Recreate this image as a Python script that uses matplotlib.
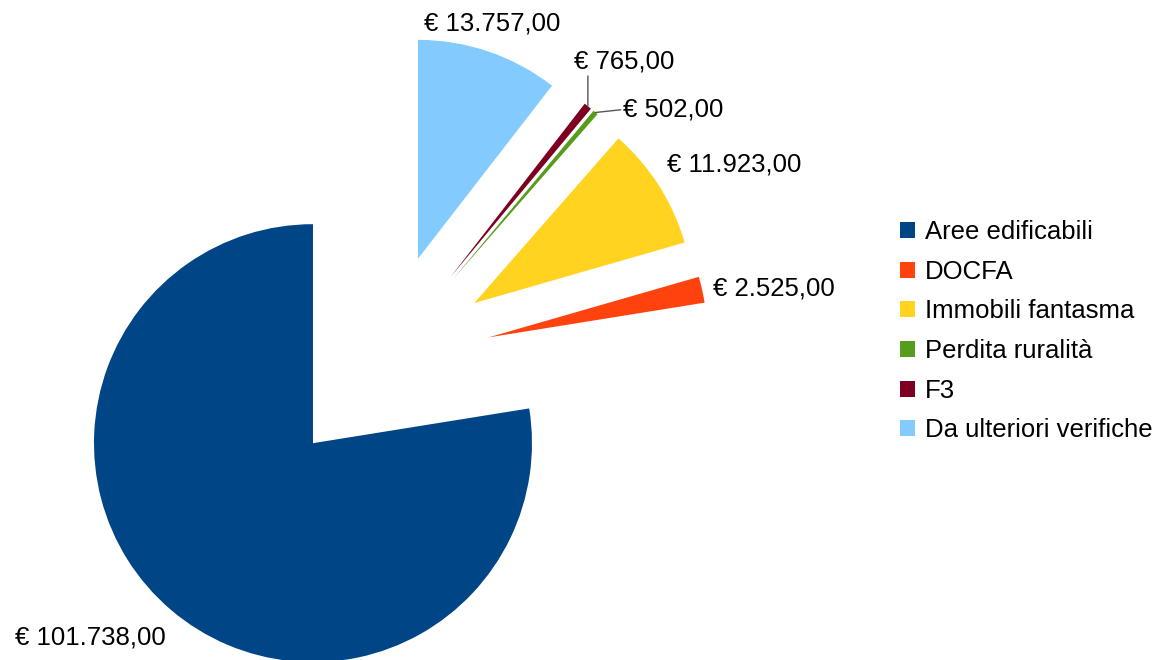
import numpy as np
import matplotlib
matplotlib.use("Agg")
import matplotlib.pyplot as plt
from matplotlib.patches import Patch

categories = ["Aree edificabili", "DOCFA", "Immobili fantasma",
              "Perdita ruralità", "F3", "Da ulteriori verifiche"]
values = [101738, 2525, 11923, 502, 765, 13757]
value_labels = ["€ 101.738,00", "€ 2.525,00", "€ 11.923,00",
                "€ 502,00", "€ 765,00", "€ 13.757,00"]
colors = ["#004586", "#ff420e", "#ffd320", "#579d1c", "#7e0021", "#83caff"]

# label layout: (offset px x, offset px y, ha, leader relpos or None)
label_layout = [
    (-5, -28, "right", None),
    (11, 1, "left", None),
    (8, 21, "left", None),
    (28, 3, "left", (0.0, 0.5)),
    (-14, 45, "left", (0.14, 0.0)),
    (3, 28, "center", None),
]

plt.rcParams["font.family"] = ["Liberation Sans", "DejaVu Sans"]
FS = 18.5

W, H, DPI = 1153, 660, 100
fig = plt.figure(figsize=(W / DPI, H / DPI), dpi=DPI)
ax = fig.add_axes([0, 0, 1, 1])

explode_r = 0.493
explode = [explode_r] * len(values)
wedges, _ = ax.pie(values, colors=colors, startangle=90, counterclock=True,
                   explode=explode, radius=1.0, center=(0, 0),
                   wedgeprops=dict(linewidth=0))

R_PX = 219.0
cx_px, cy_px = 383.0, 361.0  # pie centre (from top)
ax.set_aspect("auto")
ax.set_xlim(-cx_px / R_PX, (W - cx_px) / R_PX)
ax.set_ylim(-(H - cy_px) / R_PX, cy_px / R_PX)
ax.set_axis_off()

for w, lab, (ox, oy, ha, rel) in zip(wedges, value_labels, label_layout):
    ang = np.deg2rad((w.theta1 + w.theta2) / 2)
    cxw, cyw = w.center
    xy = (cxw + w.r * np.cos(ang), cyw + w.r * np.sin(ang))
    kw = {}
    if rel is not None:
        kw["arrowprops"] = dict(arrowstyle="-", color="#555555", lw=1.0,
                                shrinkA=0, shrinkB=0, relpos=rel)
    ax.annotate(lab, xy=xy, xytext=(ox, oy), textcoords="offset pixels",
                ha=ha, va="center", fontsize=FS, color="black", **kw)

handles = [Patch(facecolor=c, edgecolor="none") for c in colors]
leg = fig.legend(handles, categories, loc="upper left",
                 bbox_to_anchor=(900 / W, 1 - 220 / H),
                 frameon=False, fontsize=FS, handlelength=0.58,
                 handleheight=0.58, handletextpad=0.4, labelspacing=0.61,
                 borderpad=0, borderaxespad=0)

fig.savefig("out.png", dpi=DPI)
